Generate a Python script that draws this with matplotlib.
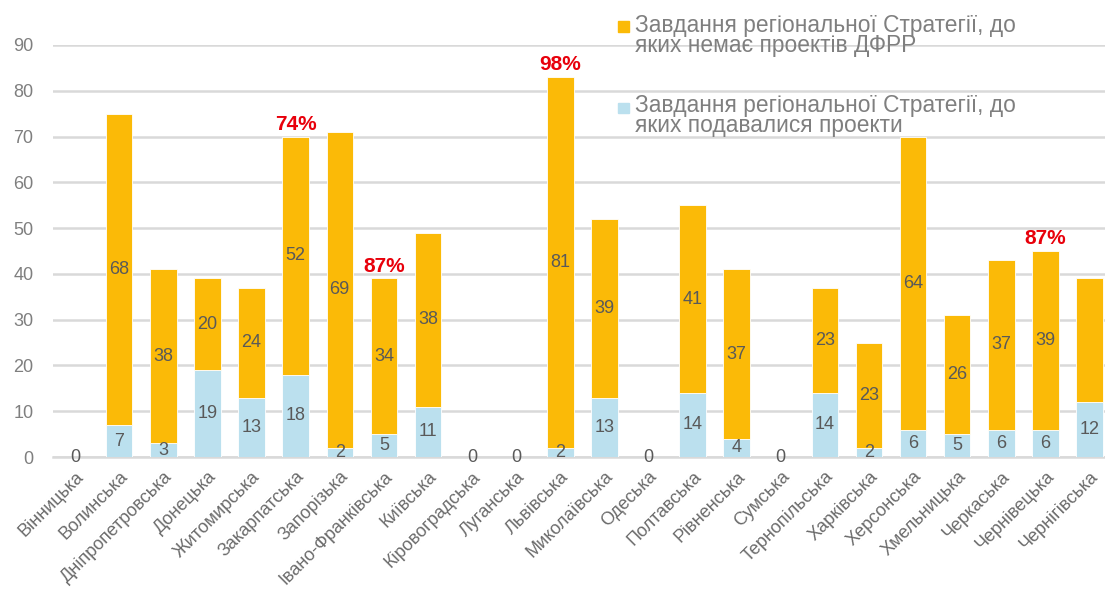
import matplotlib
matplotlib.use("Agg")
import matplotlib.pyplot as plt
import numpy as np

plt.rcParams['font.family'] = ['Liberation Sans', 'DejaVu Sans']

regions = ["Вінницька", "Волинська", "Дніпропетровська", "Донецька", "Житомирська",
           "Закарпатська", "Запорізька", "Івано-Франківська", "Київська", "Кіровоградська",
           "Луганська", "Львівська", "Миколаївська", "Одеська", "Полтавська", "Рівненська",
           "Сумська", "Тернопільська", "Харківська", "Херсонська", "Хмельницька",
           "Черкаська", "Чернівецька", "Чернігівська"]
with_projects = [0, 7, 3, 19, 13, 18, 2, 5, 11, 0, 0, 2, 13, 0, 14, 4, 0, 14, 2, 6, 5, 6, 6, 12]
without_projects = [0, 68, 38, 20, 24, 52, 69, 34, 38, 0, 0, 81, 39, 0, 41, 37, 0, 23, 23, 64, 26, 37, 39, 27]
# the last region's upper value has no label in the original
show_top_label = [v > 0 for v in without_projects[:-1]] + [False]
pct_regions = ["Закарпатська", "Івано-Франківська", "Львівська", "Чернівецька"]
pct_labels = ["74%", "87%", "98%", "87%"]

legend_labels = ["Завдання регіональної Стратегії, до\nяких немає проектів ДФРР",
                 "Завдання регіональної Стратегії, до\nяких подавалися проекти"]

c_orange = "#FBBA07"
c_blue = "#BBE0EE"
c_text = "#595959"
c_axis = "#7F7F7F"

fig = plt.figure(figsize=(11.05, 5.99), dpi=100)
ax = fig.add_axes([0.048, 0.237, 0.952, 0.688])

x = np.arange(len(regions))
w = 0.6
ax.bar(x, with_projects, w, color=c_blue, edgecolor='white', linewidth=0.6, zorder=3)
ax.bar(x, without_projects, w, bottom=with_projects, color=c_orange,
       edgecolor='white', linewidth=0.6, zorder=3)

for i in range(len(regions)):
    ax.text(x[i], with_projects[i] / 2, str(with_projects[i]), ha='center', va='center',
            fontsize=13, color=c_text, zorder=4)
    if show_top_label[i]:
        ax.text(x[i], with_projects[i] + without_projects[i] / 2, str(without_projects[i]),
                ha='center', va='center', fontsize=13, color=c_text, zorder=4)

for r, lab in zip(pct_regions, pct_labels):
    i = regions.index(r)
    tot = with_projects[i] + without_projects[i]
    ax.text(x[i], tot + 0.6, lab, ha='center', va='bottom', fontsize=15,
            fontweight='bold', color="#E8000B", zorder=5, clip_on=False)

ax.set_xlim(-0.5, 23.35)
ax.set_ylim(0, 90)
ax.set_yticks(np.arange(0, 91, 10))
ax.yaxis.grid(True, color="#D9D9D9", linewidth=1.8, zorder=0)
ax.set_axisbelow(True)
for s in ['top', 'right', 'left']:
    ax.spines[s].set_visible(False)
ax.spines['bottom'].set_color("#D9D9D9")
ax.spines['bottom'].set_linewidth(1.8)
ax.tick_params(axis='both', length=0, colors=c_axis, labelsize=13)
ax.tick_params(axis='y', pad=14)
ax.set_xticks(x)
ax.set_xticklabels(regions, rotation=45, ha='right', rotation_mode='anchor',
                   fontsize=13, color="#6B6B6B")
ax.tick_params(axis='x', pad=8)

# legend
fig.patches.append(plt.Rectangle((618 / 1105, 1 - 32 / 599), 11 / 1105, 11 / 599,
                                 transform=fig.transFigure, color=c_orange, figure=fig))
fig.patches.append(plt.Rectangle((618 / 1105, 1 - 113 / 599), 11 / 1105, 10 / 599,
                                 transform=fig.transFigure, color=c_blue, figure=fig))
fig.text(635 / 1105, 1 - 14 / 599, legend_labels[0], ha='left', va='top', fontsize=16.4,
         color="#7F7F7F", linespacing=0.85)
fig.text(635 / 1105, 1 - 94 / 599, legend_labels[1], ha='left', va='top', fontsize=16.4,
         color="#7F7F7F", linespacing=0.85)

fig.savefig("out.png", dpi=100)
